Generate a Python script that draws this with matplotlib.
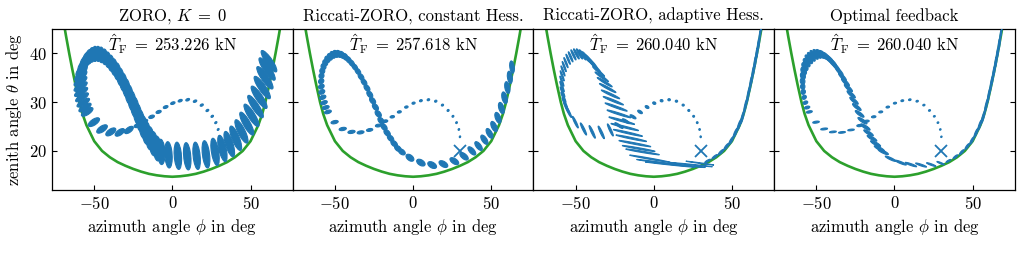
import numpy as np
import matplotlib
matplotlib.use("Agg")
import matplotlib.pyplot as plt
from matplotlib.patches import Ellipse

# ---------------- data ----------------
TITLES = [r"ZORO, $K\;=\;0$", "Riccati-ZORO, constant Hess.",
          "Riccati-ZORO, adaptive Hess.", "Optimal feedback"]
THRUST = ["253.226", "257.618", "260.040", "260.040"]

# constraint boundary (green)
GREEN_PHI = [-72, -70, -68, -66, -64, -62, -59.5, -57.5, -55, -50, -45, -40, -35, -30, -25, -20, -15, -10, -5,
             0, 5, 10, 15, 20, 25, 30, 35, 40, 45, 50, 55, 57.5, 59.5, 62, 64, 66, 68, 70, 72]
GREEN_THETA = [51.0, 47.2, 43.5, 40.0, 36.7, 33.6, 30.0, 27.6, 25.3, 22.0, 20.0, 18.7, 17.7, 16.95, 16.3, 15.75, 15.3, 15.0, 14.8,
               14.7, 14.8, 15.0, 15.3, 15.75, 16.3, 16.95, 17.7, 18.7, 20.0, 22.0, 25.3, 27.6, 30.0, 33.6, 36.7, 40.0, 43.5, 47.2, 51.0]

START_PHI = 30.0
START_THETA = 20.0

# common part of the nominal trajectory (start -> loop -> down the diagonal)
COMMON_PHI = [30.0, 29.3, 27.8, 25.5, 22.4, 18.8, 14.5, 9.8, 5.0, 0.3, -4.3, -8.8, -13.3, -17.8, -22.3,
              -27.8, -33.6, -39.4, -45.0, -50.2,
              -54.5, -55.9, -57.0, -57.8, -58.4, -58.7, -58.8, -58.6, -58.1, -57.3,
              -56.2, -54.8, -53.2, -51.4, -49.5, -47.5, -45.5, -43.4, -41.3, -39.3,
              -37.3, -35.3, -33.3, -31.4, -29.5, -27.7, -25.9, -24.1, -22.3, -20.5, -18.6, -16.6, -14.4, -12.1, -9.7, -7.2]
COMMON_THETA = [22.9, 24.4, 25.8, 27.1, 28.3, 29.4, 30.2, 30.5, 30.3, 29.8, 29.0, 28.0, 27.0, 26.1, 25.2,
                24.3, 23.8, 23.9, 24.5, 25.9,
                28.0, 28.9, 29.9, 31.0, 32.1, 33.2, 34.3, 35.4, 36.4, 37.3,
                38.1, 38.8, 39.3, 39.7, 39.9, 39.9, 39.7, 39.3, 38.7, 38.0,
                37.2, 36.3, 35.2, 34.1, 32.9, 31.6, 30.3, 29.0, 27.6, 26.2, 24.9, 23.7, 22.6, 21.5, 20.5, 19.8]

# final part of trajectory per method
END_PHI_ZORO = [-2.5, 3.5, 9.5, 15.5, 21.5,
                27.3, 32.0, 36.4, 40.5, 44.2, 47.6, 50.6, 53.2, 55.5, 57.5, 59.2, 60.6, 61.8]
END_THETA_ZORO = [19.2, 19.0, 18.9, 19.0, 19.3,
                  19.8, 20.5, 21.4, 22.6, 24.0, 25.6, 27.3, 29.1, 31.0, 33.0, 35.0, 36.8, 38.4]
END_PHI_CONST = [-2.0, 5.0, 12.2, 19.4, 26.4, 32.6,
                 37.6, 41.9, 45.6, 48.9, 51.8, 54.3, 56.5, 58.5, 60.3, 61.9, 63.3]
END_THETA_CONST = [18.6, 17.6, 17.1, 17.3, 17.9, 18.9,
                   20.0, 21.0, 22.3, 23.6, 25.0, 26.8, 28.8, 30.9, 33.0, 35.1, 37.2]
END_PHI_OPT = [-2.5, 4.0, 10.5, 17.0, 23.5, 29.5,
               34.5, 39.0, 43.0, 46.5, 49.5, 52.2, 54.6, 56.7, 58.6, 60.3, 61.8, 63.1, 64.3, 65.4, 66.5, 67.5, 68.4]
END_THETA_OPT = [18.4, 17.6, 17.2, 17.1, 17.2, 17.5,
                 17.95, 18.8, 19.75, 20.9, 22.1, 23.7, 25.3, 26.9, 29.2, 31.4, 33.6, 35.5, 37.4, 39.2, 41.1, 42.8, 44.4]

# uncertainty ellipses: half extents (deg) and correlation, per trajectory point
HX_ZORO = ([0.5, 0.6, 0.7, 0.8, 0.9, 1.0, 1.1, 1.2, 1.3, 1.4, 1.5, 1.65, 1.8, 2.0, 2.2]
           + [2.8, 3.0, 3.2, 3.4, 3.6]
           + [3.7, 3.9, 4.0, 4.1, 4.2, 4.2, 4.1, 3.9, 3.6, 3.2, 2.9, 2.6, 2.4, 2.2, 2.1, 2.0, 2.0, 2.0, 2.0, 2.1]
           + [2.1, 2.2, 2.2, 2.3, 2.3, 2.4, 2.4, 2.5, 2.5, 2.6, 2.6, 2.7, 2.7, 2.7, 2.6, 2.5]
           + [2.4, 2.4, 2.4, 2.4, 2.5]
           + [2.7, 3.0, 3.4, 3.8, 4.2, 4.5, 4.8, 5.0, 5.1, 5.2, 5.2, 5.2, 5.0])
HY_ZORO = ([0.2, 0.2, 0.21, 0.22, 0.23, 0.24, 0.25, 0.26, 0.27, 0.28, 0.3, 0.32, 0.35, 0.38, 0.42]
           + [0.75, 0.78, 0.82, 0.86, 0.9]
           + [0.9, 0.9, 0.9, 0.92, 0.95, 0.98, 1.0, 1.1, 1.2, 1.3, 1.4, 1.45, 1.5, 1.5, 1.55, 1.55, 1.6, 1.6, 1.6, 1.65]
           + [1.7, 1.75, 1.8, 1.85, 1.9, 1.95, 2.0, 2.05, 2.1, 2.2, 2.3, 2.35, 2.4, 2.5, 2.55, 2.6]
           + [2.7, 2.8, 2.8, 2.8, 2.8]
           + [2.8, 2.7, 2.6, 2.5, 2.4, 2.35, 2.3, 2.3, 2.3, 2.3, 2.3, 2.3, 2.2])
RHO_ZORO = ([0.4] * 15
            + [0.6, 0.6, 0.6, 0.62, 0.65]
            + [0.7, 0.72, 0.75, 0.75, 0.75, 0.75, 0.72, 0.68, 0.6, 0.5, 0.4, 0.3, 0.2, 0.1, 0.0, -0.05, -0.1, -0.12, -0.15, -0.15]
            + [-0.15] * 16
            + [-0.2, -0.25, -0.3, -0.35, -0.4]
            + [-0.5, -0.6, -0.68, -0.75, -0.8, -0.83, -0.85, -0.86, -0.86, -0.86, -0.86, -0.86, -0.86])

HX_CONST = ([0.45, 0.5, 0.55, 0.6, 0.65, 0.7, 0.75, 0.8, 0.9, 1.0, 1.1, 1.25, 1.4, 1.6, 1.8]
            + [2.0, 2.2, 2.3, 2.3, 2.3]
            + [2.2, 2.2, 2.1, 2.0, 1.9, 1.8, 1.7, 1.6, 1.6, 1.6, 1.6, 1.7, 1.7, 1.8, 1.8, 1.8, 1.8, 1.8, 1.8, 1.8]
            + [1.8, 1.8, 1.85, 1.85, 1.9, 1.9, 1.95, 1.95, 2.0, 2.0, 2.0, 2.05, 2.05, 2.1, 2.15, 2.2]
            + [2.5, 2.7, 2.8, 2.8, 2.8, 2.7]
            + [2.5, 2.4, 2.3, 2.2, 2.1, 2.0, 1.9, 1.8, 1.7, 1.6, 1.5])
HY_CONST = ([0.18, 0.18, 0.19, 0.19, 0.2, 0.2, 0.21, 0.21, 0.22, 0.22, 0.23, 0.24, 0.25, 0.27, 0.29]
            + [0.3, 0.32, 0.33, 0.34, 0.35]
            + [0.38, 0.4, 0.42, 0.45, 0.48, 0.5, 0.52, 0.55, 0.58, 0.6, 0.62, 0.65, 0.68, 0.7, 0.72, 0.72, 0.72, 0.7, 0.68, 0.66]
            + [0.64, 0.64, 0.65, 0.66, 0.67, 0.68, 0.68, 0.68, 0.68, 0.68, 0.67, 0.66, 0.65, 0.64, 0.63, 0.62]
            + [0.72, 0.7, 0.7, 0.7, 0.72, 0.78]
            + [0.85, 0.9, 0.95, 1.0, 1.05, 1.1, 1.15, 1.2, 1.2, 1.25, 1.25])
RHO_CONST = ([0.2] * 15
             + [0.3, 0.3, 0.3, 0.3, 0.35]
             + [0.4, 0.4, 0.4, 0.35, 0.3, 0.25, 0.2, 0.1, 0.0, -0.1, -0.15, -0.2, -0.25, -0.3, -0.35, -0.4, -0.4, -0.4, -0.45, -0.45]
             + [-0.45] * 16
             + [-0.45, -0.45, -0.45, -0.5, -0.55, -0.6]
             + [-0.65, -0.65, -0.62, -0.6, -0.55, -0.5, -0.45, -0.4, -0.35, -0.3, -0.3])

HX_ADAPT = ([0.45, 0.5, 0.55, 0.6, 0.65, 0.7, 0.75, 0.8, 0.9, 1.0, 1.2, 1.5, 1.9, 2.3, 2.6]
            + [1.9, 2.0, 2.0, 2.0, 1.9]
            + [1.9, 1.8, 1.7, 1.6, 1.5, 1.4, 1.3, 1.3, 1.3, 1.3, 1.35, 1.4, 1.5, 1.65, 1.8, 2.0, 2.2, 2.45, 2.7, 3.0]
            + [3.3, 3.8, 4.3, 4.8, 5.3, 5.9, 6.5, 7.1, 7.7, 8.3, 8.9, 9.4, 9.9, 10.3, 10.6, 10.8]
            + [13.0, 15.0, 16.0, 16.0, 14.0, 9.0]
            + [1.8, 1.75, 1.7, 1.6, 1.5, 1.4, 1.3, 1.2, 1.1, 1.0, 0.95, 0.9, 0.85, 0.8, 0.75, 0.7, 0.4])
HY_ADAPT = ([0.18, 0.18, 0.19, 0.19, 0.2, 0.2, 0.21, 0.22, 0.24, 0.26, 0.3, 0.36, 0.42, 0.5, 0.6]
            + [1.25, 1.3, 1.3, 1.25, 1.2]
            + [1.15, 1.1, 1.05, 1.05, 1.05, 1.05, 1.05, 1.05, 1.05, 1.05, 1.05, 1.05, 1.05, 1.05, 1.05, 1.05, 1.05, 1.05, 1.05, 1.05]
            + [1.05, 1.02, 1.0, 0.97, 0.94, 0.9, 0.87, 0.84, 0.8, 0.77, 0.74, 0.71, 0.68, 0.65, 0.62, 0.6]
            + [0.75, 0.65, 0.55, 0.5, 0.45, 0.4]
            + [0.35, 0.45, 0.55, 0.65, 0.8, 0.95, 1.1, 1.3, 1.45, 1.6, 1.7, 1.8, 1.9, 1.9, 1.9, 1.9, 0.8])
RHO_ADAPT = ([0.0, 0.0, 0.0, 0.0, 0.0, 0.0, 0.0, 0.0, -0.1, -0.2, -0.4, -0.6, -0.75, -0.85, -0.9]
             + [-0.93] * 25
             + [-0.97] * 16
             + [-0.985] * 6
             + [0.85] * 17)

HX_OPT = ([0.45, 0.5, 0.55, 0.6, 0.65, 0.7, 0.75, 0.8, 0.9, 1.0, 1.1, 1.25, 1.4, 1.6, 1.8]
          + [2.1, 2.2, 2.2, 2.2, 2.1]
          + [1.9, 1.7, 1.5, 1.4, 1.4, 1.4, 1.5, 1.6, 1.8, 2.0, 2.2, 2.4, 2.5, 2.6, 2.6, 2.6, 2.6, 2.6, 2.6, 2.5]
          + [2.4, 2.45, 2.5, 2.55, 2.6, 2.65, 2.7, 2.75, 2.8, 2.9, 3.0, 3.05, 3.1, 3.2, 3.25, 3.3]
          + [3.4, 3.6, 3.7, 3.5, 3.0, 2.4]
          + [1.5, 1.5, 1.45, 1.4, 1.35, 1.3, 1.25, 1.2, 1.1, 1.0, 0.95, 0.9, 0.85, 0.8, 0.75, 0.7, 0.4])
HY_OPT = ([0.15, 0.15, 0.16, 0.16, 0.17, 0.17, 0.18, 0.18, 0.19, 0.19, 0.2, 0.2, 0.21, 0.22, 0.23]
          + [0.18, 0.18, 0.18, 0.2, 0.22]
          + [0.25, 0.3, 0.35, 0.42, 0.5, 0.58, 0.65, 0.72, 0.78, 0.82, 0.86, 0.9, 0.9, 0.9, 0.9, 0.9, 0.9, 0.9, 0.9, 0.88]
          + [0.85, 0.83, 0.81, 0.79, 0.77, 0.75, 0.73, 0.71, 0.69, 0.67, 0.65, 0.63, 0.61, 0.6, 0.58, 0.56]
          + [0.55, 0.5, 0.45, 0.42, 0.38, 0.34]
          + [0.3, 0.4, 0.5, 0.6, 0.75, 0.9, 1.05, 1.25, 1.4, 1.55, 1.65, 1.75, 1.85, 1.9, 1.9, 1.9, 0.8])
RHO_OPT = ([0.2] * 15
           + [0.4, 0.4, 0.4, 0.4, 0.4]
           + [0.4, 0.35, 0.3, 0.2, 0.1, 0.0, -0.1, -0.2, -0.35, -0.5, -0.6, -0.7, -0.75, -0.8, -0.8, -0.8, -0.8, -0.8, -0.8, -0.8]
           + [-0.85] * 16
           + [-0.9] * 6
           + [0.85] * 17)

# ---------------- style ----------------
plt.rcParams.update({
    "font.family": "serif",
    "font.serif": ["cmr10"],
    "mathtext.fontset": "cm",
    "axes.formatter.use_mathtext": True,
    "axes.unicode_minus": True,
    "font.size": 12,
    "axes.linewidth": 0.9,
})

BLUE = "#1f77b4"
GREEN = "#2ca02c"

fig, axes = plt.subplots(1, 4, figsize=(10.22, 2.57), dpi=100, sharey=True)
fig.subplots_adjust(left=0.0509, right=0.993, top=0.887, bottom=0.261, wspace=0)

panels = [
    (END_PHI_ZORO, END_THETA_ZORO, HX_ZORO, HY_ZORO, RHO_ZORO),
    (END_PHI_CONST, END_THETA_CONST, HX_CONST, HY_CONST, RHO_CONST),
    (END_PHI_OPT, END_THETA_OPT, HX_ADAPT, HY_ADAPT, RHO_ADAPT),
    (END_PHI_OPT, END_THETA_OPT, HX_OPT, HY_OPT, RHO_OPT),
]


def add_ellipse(ax, x, y, hx, hy, r):
    cov = np.array([[hx * hx, r * hx * hy], [r * hx * hy, hy * hy]])
    vals, vecs = np.linalg.eigh(cov)
    w = 2 * np.sqrt(max(vals[1], 0))
    h = 2 * np.sqrt(max(vals[0], 0))
    ang = np.degrees(np.arctan2(vecs[1, 1], vecs[0, 1]))
    ax.add_patch(Ellipse((x, y), w, h, angle=ang, facecolor=BLUE, edgecolor=BLUE,
                         linewidth=0.8, zorder=3))


for i, ax in enumerate(axes):
    ephi, etheta, hx, hy, rho = panels[i]
    phis = COMMON_PHI + ephi
    thetas = COMMON_THETA + etheta
    assert len(phis) == len(thetas) == len(hx) == len(hy) == len(rho), (i, len(phis), len(thetas), len(hx), len(hy), len(rho))
    ax.plot(GREEN_PHI, GREEN_THETA, color=GREEN, lw=1.9, zorder=2)
    for x, y, a, b, r in zip(phis, thetas, hx, hy, rho):
        add_ellipse(ax, x, y, a, b, r)
    ax.plot([START_PHI], [START_THETA], marker="x", color=BLUE, markersize=8,
            markeredgewidth=1.3, linestyle="none", zorder=4)
    ax.set_xlim(-77, 77)
    ax.set_ylim(12, 45)
    ax.set_xticks([-50, 0, 50])
    ax.set_yticks([20, 30, 40])
    ax.tick_params(direction="in", right=True, top=False, length=3.5, width=0.8)
    ax.set_title(TITLES[i], fontsize=12, pad=6)
    ax.set_xlabel(r"azimuth angle $\phi$ in deg")
    ax.text(0.5, 0.905, r"$\hat{T}_{\mathrm{F}}\;=\;%s$ kN" % THRUST[i],
            transform=ax.transAxes, ha="center", va="center", fontsize=12)

axes[0].set_ylabel(r"zenith angle $\theta$ in deg")

fig.savefig("out.png", dpi=100)
